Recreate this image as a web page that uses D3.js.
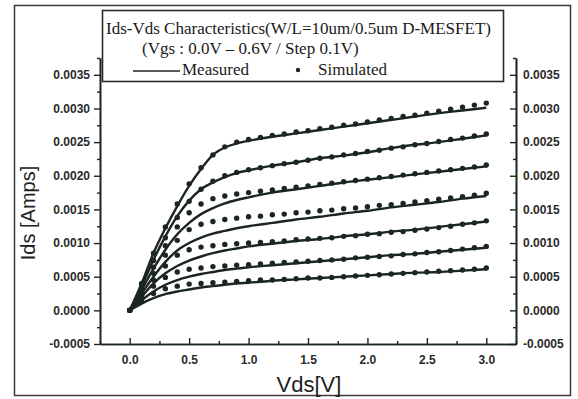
<!DOCTYPE html>
<html>
<head>
<meta charset="utf-8">
<script src="https://cdn.jsdelivr.net/npm/d3@7"></script>
<style>
  body { margin: 0; background: #fff; }
  svg { display: block; }
</style>
</head>
<body>
<svg id="chart" width="578" height="399"></svg>
<script>
// measured Vds points (V)
const vdsMeasured = [0, 0.1, 0.2, 0.3, 0.4, 0.5, 0.6, 0.7, 0.8, 0.9, 1.0, 1.2, 1.4, 1.6, 1.8, 2.0, 2.2, 2.4, 2.6, 2.8, 3.0];
// measured Ids (A), Vgs 0.6V (top) down to 0.0V
const measured06 = [0, 0.0004, 0.00085, 0.00122, 0.00155, 0.00185, 0.0021, 0.00231, 0.00242, 0.00248, 0.00252, 0.00258, 0.00263, 0.00268, 0.00273, 0.00278, 0.00283, 0.00288, 0.00293, 0.00297, 0.00301];
const measured05 = [0, 0.00035, 0.00075, 0.0011, 0.0014, 0.00163, 0.0018, 0.0019, 0.00198, 0.00204, 0.00208, 0.00215, 0.0022, 0.00226, 0.0023, 0.00235, 0.00241, 0.00246, 0.0025, 0.00255, 0.0026];
const measured04 = [0, 0.0003, 0.00062, 0.0009, 0.00113, 0.0013, 0.00143, 0.00152, 0.00159, 0.00164, 0.00168, 0.00175, 0.0018, 0.00185, 0.0019, 0.00194, 0.00198, 0.00202, 0.00206, 0.0021, 0.00214];
const measured03 = [0, 0.00025, 0.0005, 0.00072, 0.00089, 0.001, 0.00108, 0.00114, 0.00118, 0.00122, 0.00125, 0.0013, 0.00135, 0.00139, 0.00144, 0.00148, 0.00153, 0.00157, 0.00161, 0.00166, 0.0017];
const measured02 = [0, 0.0002, 0.0004, 0.00055, 0.00066, 0.00074, 0.0008, 0.00085, 0.00089, 0.00092, 0.00095, 0.00099, 0.00103, 0.00106, 0.0011, 0.00113, 0.00117, 0.0012, 0.00124, 0.00128, 0.00132];
const measured01 = [0, 0.00015, 0.00028, 0.00038, 0.00045, 0.0005, 0.00054, 0.00057, 0.0006, 0.00062, 0.00064, 0.00067, 0.0007, 0.00073, 0.00076, 0.00079, 0.00082, 0.00084, 0.00087, 0.0009, 0.00093];
const measured00 = [0, 0.0001, 0.00018, 0.00024, 0.00028, 0.00031, 0.00034, 0.00036, 0.00038, 0.0004, 0.00041, 0.00044, 0.00046, 0.00048, 0.0005, 0.00052, 0.00054, 0.00056, 0.00057, 0.00059, 0.00061];

// simulated Vds points (V)
const vdsSimulated = [0, 0.1, 0.2, 0.3, 0.4, 0.5, 0.6, 0.7, 0.8, 0.9, 1.0, 1.1, 1.2, 1.3, 1.4, 1.5, 1.6, 1.7, 1.8, 1.9, 2.0, 2.1, 2.2, 2.3, 2.4, 2.5, 2.6, 2.7, 2.8, 2.9, 3.0];
const simulated06 = [0, 0.0004, 0.00085, 0.00124, 0.00158, 0.00188, 0.00212, 0.00231, 0.00243, 0.0025, 0.00254, 0.00257, 0.0026, 0.00262, 0.00265, 0.00267, 0.0027, 0.00272, 0.00275, 0.00277, 0.0028, 0.00283, 0.00285, 0.00288, 0.0029, 0.00293, 0.00296, 0.00299, 0.00302, 0.00305, 0.00308];
const simulated05 = [0, 0.00035, 0.00074, 0.00108, 0.00138, 0.00162, 0.0018, 0.00192, 0.002, 0.00205, 0.00209, 0.00212, 0.00215, 0.00218, 0.0022, 0.00223, 0.00226, 0.00228, 0.00231, 0.00233, 0.00236, 0.00238, 0.00241, 0.00243, 0.00246, 0.00248, 0.00251, 0.00254, 0.00256, 0.00259, 0.00262];
const simulated04 = [0, 0.0003, 0.00064, 0.00096, 0.00124, 0.00145, 0.00158, 0.00166, 0.0017, 0.00173, 0.00175, 0.00177, 0.00179, 0.00181, 0.00183, 0.00185, 0.00187, 0.00189, 0.00191, 0.00193, 0.00195, 0.00197, 0.00199, 0.00201, 0.00203, 0.00205, 0.00207, 0.00209, 0.00211, 0.00213, 0.00216];
const simulated03 = [0, 0.00026, 0.00055, 0.00082, 0.00104, 0.0012, 0.00128, 0.00132, 0.00135, 0.00137, 0.00139, 0.0014, 0.00142, 0.00143, 0.00145, 0.00146, 0.00148, 0.00149, 0.00151, 0.00152, 0.00154, 0.00156, 0.00157, 0.00159, 0.00161, 0.00163, 0.00165, 0.00167, 0.00169, 0.00171, 0.00174];
const simulated02 = [0, 0.00022, 0.00045, 0.00066, 0.00082, 0.0009, 0.00094, 0.00096, 0.00098, 0.00099, 0.001, 0.00101, 0.00102, 0.00103, 0.00105, 0.00106, 0.00107, 0.00108, 0.0011, 0.00111, 0.00113, 0.00114, 0.00116, 0.00117, 0.00119, 0.00121, 0.00123, 0.00125, 0.00128, 0.0013, 0.00133];
const simulated01 = [0, 0.00018, 0.00036, 0.00049, 0.00057, 0.00061, 0.00063, 0.00065, 0.00066, 0.00067, 0.00068, 0.00069, 0.0007, 0.00071, 0.00072, 0.00073, 0.00074, 0.00075, 0.00076, 0.00078, 0.00079, 0.0008, 0.00081, 0.00083, 0.00084, 0.00086, 0.00087, 0.00089, 0.00091, 0.00093, 0.00095];
const simulated00 = [0, 0.00013, 0.00025, 0.00032, 0.00036, 0.00039, 0.0004, 0.00041, 0.00042, 0.00043, 0.00044, 0.00045, 0.00045, 0.00046, 0.00047, 0.00048, 0.00048, 0.00049, 0.0005, 0.00051, 0.00052, 0.00053, 0.00054, 0.00055, 0.00056, 0.00057, 0.00058, 0.00059, 0.0006, 0.00061, 0.00063];

const measuredSeries = [measured06, measured05, measured04, measured03, measured02, measured01, measured00];
const simulatedSeries = [simulated06, simulated05, simulated04, simulated03, simulated02, simulated01, simulated00];

const xTicks = [0, 0.5, 1.0, 1.5, 2.0, 2.5, 3.0];
const xTickLabels = ['0.0', '0.5', '1.0', '1.5', '2.0', '2.5', '3.0'];
const xMinorTicks = [-0.25, 0.25, 0.75, 1.25, 1.75, 2.25, 2.75, 3.25];
const yTicks = [-0.0005, 0, 0.0005, 0.001, 0.0015, 0.002, 0.0025, 0.003, 0.0035];
const yTickLabels = ['-0.0005', '0.0000', '0.0005', '0.0010', '0.0015', '0.0020', '0.0025', '0.0030', '0.0035'];
const yMinorTicks = [-0.00025, 0.00025, 0.00075, 0.00125, 0.00175, 0.00225, 0.00275, 0.00325, 0.00375];

const titleLines = ['Ids-Vds Characteristics(W/L=10um/0.5um D-MESFET)', '(Vgs : 0.0V \u2013 0.6V / Step 0.1V)'];

const ink = '#1a261f';
const svg = d3.select('#chart');

const x = d3.scaleLinear().domain([-0.25, 3.25]).range([100, 516]);
const y = d3.scaleLinear().domain([-0.0005, 0.00375]).range([344, 58]);

// outer frame
svg.append('rect')
  .attr('x', 14.5).attr('y', 5.5)
  .attr('width', 556).attr('height', 390)
  .attr('fill', 'none')
  .attr('stroke', '#3a3a3a')
  .attr('stroke-width', 1.5);

// axes
const labelFont = g => g.selectAll('text')
  .attr('font-family', 'Arial, "Liberation Sans", sans-serif')
  .attr('font-size', 12)
  .attr('font-weight', 'bold')
  .attr('fill', '#2a2a2a');

const styleAxis = g => {
  g.select('.domain').attr('stroke', ink).attr('stroke-width', 1.6);
  g.selectAll('.tick line').attr('stroke', ink).attr('stroke-width', 1.4);
};

svg.append('g')
  .attr('transform', 'translate(100,0)')
  .call(d3.axisLeft(y).tickValues(yTicks).tickFormat((d, i) => yTickLabels[i]).tickSize(6).tickSizeOuter(0).tickPadding(4))
  .call(styleAxis).call(labelFont);
svg.append('g')
  .attr('transform', 'translate(100,0)')
  .call(d3.axisLeft(y).tickValues(yMinorTicks).tickFormat('').tickSize(3).tickSizeOuter(0))
  .call(styleAxis);

svg.append('g')
  .attr('transform', 'translate(516,0)')
  .call(d3.axisRight(y).tickValues(yTicks).tickFormat((d, i) => yTickLabels[i]).tickSize(-6).tickSizeOuter(0).tickPadding(7))
  .call(styleAxis).call(labelFont);
svg.append('g')
  .attr('transform', 'translate(516,0)')
  .call(d3.axisRight(y).tickValues(yMinorTicks).tickFormat('').tickSize(-3).tickSizeOuter(0))
  .call(styleAxis);

svg.append('g')
  .attr('transform', 'translate(0,344)')
  .call(d3.axisBottom(x).tickValues(xTicks).tickFormat((d, i) => xTickLabels[i]).tickSize(-6).tickSizeOuter(0).tickPadding(11))
  .call(styleAxis).call(labelFont);
svg.append('g')
  .attr('transform', 'translate(0,344)')
  .call(d3.axisBottom(x).tickValues(xMinorTicks).tickFormat('').tickSize(-3).tickSizeOuter(0))
  .call(styleAxis);

// axis titles
svg.append('text')
  .attr('transform', 'translate(35,213) rotate(-90)')
  .attr('text-anchor', 'middle')
  .attr('font-family', 'Arial, "Liberation Sans", sans-serif')
  .attr('font-size', 20)
  .attr('fill', '#222')
  .text('Ids [Amps]');

svg.append('text')
  .attr('x', 309).attr('y', 392)
  .attr('text-anchor', 'middle')
  .attr('font-family', 'Arial, "Liberation Sans", sans-serif')
  .attr('font-size', 22)
  .attr('fill', '#222')
  .text('Vds[V]');

// measured curves
const line = d3.line()
  .x((d, i) => x(vdsMeasured[i]))
  .y(d => y(d))
  .curve(d3.curveMonotoneX);

svg.append('g').selectAll('path')
  .data(measuredSeries)
  .enter()
  .append('path')
  .attr('d', d => line(d))
  .attr('fill', 'none')
  .attr('stroke', ink)
  .attr('stroke-width', 2.4);

// simulated dots
svg.append('g').selectAll('g')
  .data(simulatedSeries)
  .enter()
  .append('g')
  .selectAll('circle')
  .data(d => d)
  .enter()
  .append('circle')
  .attr('cx', (d, i) => x(vdsSimulated[i]))
  .attr('cy', d => y(d))
  .attr('r', 2.7)
  .attr('fill', ink);

// title / legend box
const box = svg.append('g');
box.append('rect')
  .attr('x', 102.5).attr('y', 10.5)
  .attr('width', 401).attr('height', 71)
  .attr('fill', '#fff')
  .attr('stroke', '#2a2a2a')
  .attr('stroke-width', 1.6);

box.selectAll('text.title')
  .data(titleLines)
  .enter()
  .append('text')
  .attr('class', 'title')
  .attr('x', (d, i) => i === 0 ? 106 : 142)
  .attr('y', (d, i) => i === 0 ? 34 : 54)
  .attr('font-family', '"Liberation Serif", "Times New Roman", serif')
  .attr('font-size', 17)
  .attr('fill', '#1a1a1a')
  .text(d => d);

box.append('line')
  .attr('x1', 133).attr('x2', 180)
  .attr('y1', 71).attr('y2', 71)
  .attr('stroke', ink)
  .attr('stroke-width', 1.6);
box.append('text')
  .attr('x', 182).attr('y', 75)
  .attr('font-family', '"Liberation Serif", "Times New Roman", serif')
  .attr('font-size', 17)
  .attr('fill', '#1a1a1a')
  .text('Measured');
box.append('circle')
  .attr('cx', 298).attr('cy', 70)
  .attr('r', 2.2)
  .attr('fill', ink);
box.append('text')
  .attr('x', 318).attr('y', 75)
  .attr('font-family', '"Liberation Serif", "Times New Roman", serif')
  .attr('font-size', 17)
  .attr('fill', '#1a1a1a')
  .text('Simulated');
</script>
</body>
</html>
